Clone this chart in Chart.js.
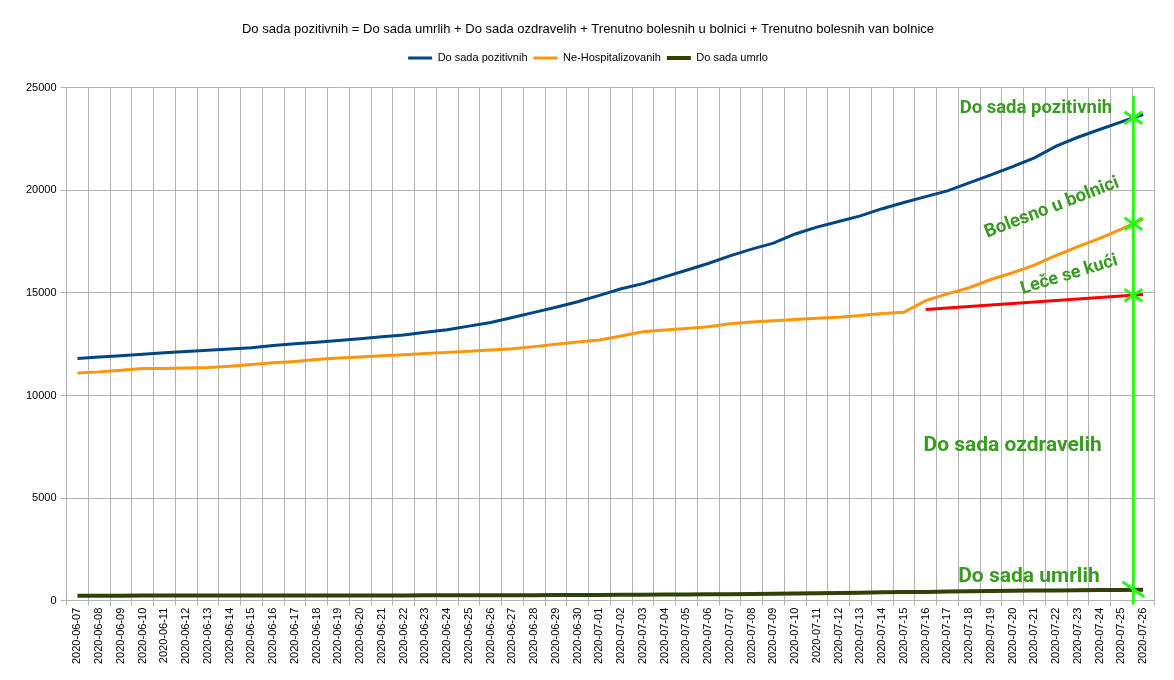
<!DOCTYPE html>
<html>
<head>
<meta charset="utf-8">
<script src="https://cdn.jsdelivr.net/npm/chart.js@4.4.0/dist/chart.umd.min.js"></script>
<style>
  html, body { margin: 0; padding: 0; background: #fff; }
  #wrap { width: 1174px; height: 680px; position: relative; }
</style>
</head>
<body>
<div id="wrap"><canvas id="chart"></canvas></div>
<script>
const dates = [
  '2020-06-07','2020-06-08','2020-06-09','2020-06-10','2020-06-11','2020-06-12','2020-06-13','2020-06-14',
  '2020-06-15','2020-06-16','2020-06-17','2020-06-18','2020-06-19','2020-06-20','2020-06-21','2020-06-22',
  '2020-06-23','2020-06-24','2020-06-25','2020-06-26','2020-06-27','2020-06-28','2020-06-29','2020-06-30',
  '2020-07-01','2020-07-02','2020-07-03','2020-07-04','2020-07-05','2020-07-06','2020-07-07','2020-07-08',
  '2020-07-09','2020-07-10','2020-07-11','2020-07-12','2020-07-13','2020-07-14','2020-07-15','2020-07-16',
  '2020-07-17','2020-07-18','2020-07-19','2020-07-20','2020-07-21','2020-07-22','2020-07-23','2020-07-24',
  '2020-07-25','2020-07-26'
];

const pozitivni = [
  11800, 11870, 11940, 12010, 12080, 12140, 12200, 12260, 12320, 12430,
  12520, 12590, 12680, 12760, 12860, 12950, 13080, 13200, 13380, 13560,
  13800, 14050, 14300, 14570, 14880, 15200, 15450, 15780, 16100, 16430,
  16800, 17130, 17420, 17870, 18200, 18480, 18750, 19100, 19400, 19690,
  19970, 20360, 20750, 21150, 21580, 22150, 22580, 22960, 23330, 23690
];

const neHospitalizovani = [
  11100, 11150, 11230, 11310, 11320, 11340, 11360, 11420, 11510, 11590,
  11660, 11750, 11830, 11880, 11930, 11980, 12040, 12100, 12150, 12210,
  12280, 12380, 12500, 12600, 12700, 12900, 13100, 13190, 13260, 13350,
  13500, 13580, 13640, 13700, 13760, 13810, 13900, 13990, 14050, 14620,
  14950, 15250, 15650, 15980, 16350, 16820, 17250, 17650, 18100, 18590
];

const umrlo = [
  245, 245, 247, 249, 250, 250, 251, 252, 253, 254,
  255, 257, 257, 258, 259, 260, 262, 263, 265, 268,
  270, 273, 275, 279, 281, 286, 292, 299, 307, 311,
  318, 330, 341, 352, 370, 382, 394, 409, 421, 431,
  445, 458, 471, 485, 495, 504, 513, 521, 528, 534
];

// red trend line (Leče se kući)
const kuciDates = ['2020-07-16', '2020-07-26'];
const kuciValues = [14190, 14920];

const yTicks = [0, 5000, 10000, 15000, 20000, 25000];

// green marker drawn by hand in the original
const markerPos = 48.55;
const green = '#2cf51b';
const textGreen = '#3a9b22';
const notes = [
  { text: 'Do sada pozitivnih', at: 44.07, val: 23975, size: 18.5, angle: 0 },
  { text: 'Bolesno u bolnici', at: 44.8, val: 19140, size: 18.5, angle: -21 },
  { text: 'Leče se kući', at: 45.6, val: 15870, size: 18, angle: -17 },
  { text: 'Do sada ozdravelih', at: 43.0, val: 7570, size: 21, angle: 0 },
  { text: 'Do sada umrlih', at: 43.75, val: 1170, size: 21, angle: 0 }
];

const markerPlugin = {
  id: 'markers',
  afterInit(chart) {
    // extra room under the legend, like the original
    const legend = chart.legend;
    if (legend) {
      const fit = legend.fit;
      legend.fit = function () { fit.call(this); this.height += 14; };
    }
  },
  afterDatasetsDraw(chart) {
    const { ctx, chartArea } = chart;
    const xs = chart.scales.x, ys = chart.scales.y;
    const mx = xs.getPixelForValue(markerPos);
    const i = Math.floor(markerPos), f = markerPos - i;
    const at = arr => arr[i] + f * (arr[i + 1] - arr[i]);
    const kuciAt = kuciValues[0] + (markerPos - 39) / 10 * (kuciValues[1] - kuciValues[0]);

    ctx.save();
    ctx.strokeStyle = green;
    ctx.lineWidth = 3;
    ctx.beginPath();
    ctx.moveTo(mx, ys.getPixelForValue(24600));
    ctx.lineTo(mx, chartArea.bottom + 3);
    ctx.stroke();

    [at(pozitivni), at(neHospitalizovani), kuciAt].forEach(v => {
      const py = ys.getPixelForValue(v);
      ctx.beginPath();
      ctx.moveTo(mx - 9, py - 6); ctx.lineTo(mx + 9, py + 6);
      ctx.moveTo(mx - 9, py + 6); ctx.lineTo(mx + 9, py - 6);
      ctx.stroke();
    });
    const dy = ys.getPixelForValue(at(umrlo));
    ctx.beginPath();
    ctx.moveTo(mx - 11, dy - 8); ctx.lineTo(mx + 11, dy + 7);
    ctx.stroke();

    ctx.fillStyle = textGreen;
    ctx.textAlign = 'center';
    ctx.textBaseline = 'middle';
    notes.forEach(n => {
      ctx.save();
      ctx.translate(xs.getPixelForValue(n.at), ys.getPixelForValue(n.val));
      ctx.rotate(n.angle * Math.PI / 180);
      ctx.font = 'bold ' + n.size + 'px Roboto';
      ctx.fillText(n.text, 0, 0);
      ctx.restore();
    });
    ctx.restore();
  }
};

const ctx = document.getElementById('chart').getContext('2d');
new Chart(ctx, {
  type: 'line',
  data: {
    labels: dates,
    datasets: [
      { label: 'Do sada pozitivnih', data: pozitivni, borderColor: '#004586', backgroundColor: '#004586', borderWidth: 3 },
      { label: 'Ne-Hospitalizovanih', data: neHospitalizovani, borderColor: '#ff950e', backgroundColor: '#ff950e', borderWidth: 3 },
      { label: 'Do sada umrlo', data: umrlo, borderColor: '#314004', backgroundColor: '#314004', borderWidth: 4 },
      { label: 'kuci', data: kuciDates.map((d, k) => ({ x: d, y: kuciValues[k] })), borderColor: '#ff0000', backgroundColor: '#ff0000', borderWidth: 3 }
    ]
  },
  options: {
    responsive: true,
    maintainAspectRatio: false,
    animation: false,
    elements: { point: { radius: 0 }, line: { tension: 0 } },
    layout: { padding: { left: 22, right: 20, top: 12, bottom: 14 } },
    plugins: {
      title: {
        display: true,
        text: 'Do sada pozitivnih = Do sada umrlih + Do sada ozdravelih + Trenutno bolesnih u bolnici + Trenutno bolesnih van bolnice',
        color: '#000',
        font: { family: 'Liberation Sans', size: 13, weight: 'normal' },
        padding: { top: 10, bottom: 9 }
      },
      legend: {
        labels: {
          color: '#000',
          font: { family: 'Liberation Sans', size: 11 },
          usePointStyle: true,
          pointStyle: 'line',
          pointStyleWidth: 24,
          padding: 6,
          filter: item => item.datasetIndex < 3
        }
      },
      tooltip: { enabled: false }
    },
    scales: {
      x: {
        offset: true,
        grid: { offset: true, color: '#b3b3b3', tickLength: 5 },
        border: { color: '#b3b3b3' },
        ticks: {
          color: '#000',
          font: { family: 'Liberation Sans', size: 11 },
          minRotation: 90, maxRotation: 90, autoSkip: false, padding: 2
        }
      },
      y: {
        min: 0, max: 25000,
        afterBuildTicks: s => { s.ticks = yTicks.map(v => ({ value: v })); },
        grid: { color: '#b3b3b3', tickLength: 6 },
        border: { color: '#b3b3b3' },
        ticks: {
          color: '#000',
          font: { family: 'Liberation Sans', size: 11 },
          padding: 4,
          callback: v => String(v)
        }
      }
    }
  },
  plugins: [markerPlugin]
});
</script>
</body>
</html>
